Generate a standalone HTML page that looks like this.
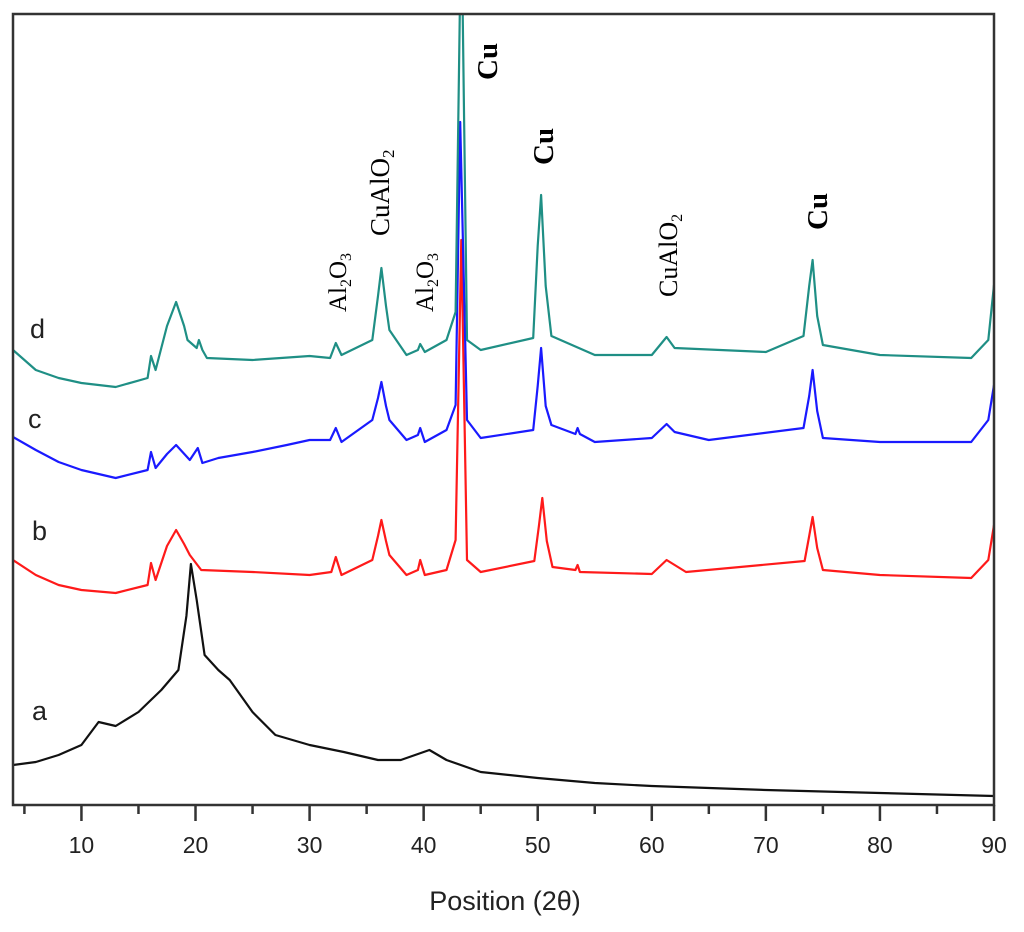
<!DOCTYPE html>
<html><head><meta charset="utf-8"><style>
html,body{margin:0;padding:0;background:#fff;}
svg{display:block;}
</style></head><body>
<svg id="chart" width="1024" height="932" xmlns="http://www.w3.org/2000/svg">
<g id="series"></g>
<rect x="13" y="14" width="981" height="791" fill="none" stroke="#333" stroke-width="2.5"/>
<g id="ticks"></g>
<text x="505" y="910" text-anchor="middle" font-family="Liberation Sans, sans-serif" font-size="27" fill="#222">Position (2θ)</text>
<g font-family="Liberation Sans, sans-serif" font-size="27" fill="#222">
<text x="30" y="338">d</text>
<text x="28" y="428">c</text>
<text x="32" y="540">b</text>
<text x="32" y="720">a</text>
</g>
<g font-family="Liberation Serif, serif" font-size="25" fill="#000">
<text transform="translate(346,312) rotate(-90)">Al<tspan font-size="16" dy="5">2</tspan><tspan dy="-5">O</tspan><tspan font-size="16" dy="5">3</tspan></text>
<text font-size="27" transform="translate(389,236) rotate(-90)">CuAlO<tspan font-size="17" dy="5">2</tspan></text>
<text transform="translate(433,312) rotate(-90)">Al<tspan font-size="16" dy="5">2</tspan><tspan dy="-5">O</tspan><tspan font-size="16" dy="5">3</tspan></text>
<text font-weight="bold" font-size="29" transform="translate(497,80) rotate(-90)">Cu</text>
<text font-weight="bold" font-size="29" transform="translate(553,165) rotate(-90)">Cu</text>
<text font-size="26" transform="translate(677,297) rotate(-90)">CuAlO<tspan font-size="16" dy="5">2</tspan></text>
<text font-weight="bold" font-size="29" transform="translate(827,230) rotate(-90)">Cu</text>
</g>
</svg>
<script>
// x: 2-theta, y: intensity (arbitrary, offset-stacked units)
const xTickValues = [10,20,30,40,50,60,70,80,90];
const xTickLabels = ["10","20","30","40","50","60","70","80","90"];
const minorTicks = [5,15,25,35,45,55,65,75,85];

const aX = [4,6,8,10,11.5,13,15,17,18.5,19.2,19.6,20.1,20.8,22,23,25,27,30,33,36,38,40.5,42,45,50,55,60,70,80,90];
const aY = [41,44,51,61,84,80,94,116,136,190,242,206,151,136,126,94,71,61,54,46,46,56,46,34,28,23,20,16,13,10];

const bX = [4,6,8,10,13,15.8,16.1,16.5,17.5,18.3,19.0,19.5,20.5,25,30,31.9,32.3,32.8,35.5,36.0,36.3,36.7,37,38.5,39.5,39.7,40.1,42,42.8,43.3,43.8,45,49.7,50.1,50.4,50.8,51.3,53.3,53.5,53.7,60,61.3,63,73.4,73.8,74.1,74.5,75,80,88,89.5,90];
const bY = [246,231,221,216,213,221,243,226,260,276,262,251,236,234,231,234,249,231,246,270,286,265,251,231,236,246,231,236,266,566,246,234,245,280,308,265,239,236,241,234,232,246,234,245,270,289,258,236,231,228,246,281];

const cX = [4,6,8,10,13,15.8,16.1,16.5,17.5,18.3,19.5,20.2,20.6,22,25,28,30,31.8,32.3,32.8,35.5,36.0,36.3,36.7,37,38.5,39.5,39.7,40.1,42,42.8,43.2,43.8,45,49.6,50.0,50.3,50.7,51.2,53.3,53.5,53.7,55,60,61.3,62,65,73.3,73.8,74.1,74.5,75,80,88,89.5,90];
const cY = [369,356,344,336,328,336,354,338,352,361,346,358,343,348,354,361,366,366,378,364,386,408,424,400,386,366,371,378,364,376,401,684,386,368,376,420,458,400,381,372,378,372,364,368,382,374,366,378,410,436,395,368,364,364,386,421];

const dX = [4,6,8,10,13,15.8,16.1,16.5,17.5,18.3,19.0,19.3,20.1,20.3,20.6,21,25,30,31.8,32.3,32.8,35.5,36.0,36.3,36.7,37,38.5,39.5,39.7,40.1,42,42.8,43.3,43.8,45,49.6,50.0,50.3,50.7,51.2,55,60,61.3,62,70,73.3,73.8,74.1,74.5,75,80,88,89.5,90];
const dY = [456,436,428,423,419,428,450,436,480,504,480,466,458,466,456,448,446,450,448,463,451,466,510,538,500,476,451,456,462,454,466,494,900,466,456,468,560,611,520,470,451,451,469,458,454,470,520,546,490,461,451,448,466,521];

const X0=4, X1=90, PX0=13, PX1=994;
function xs(v){ return PX0 + (v-X0)*(PX1-PX0)/(X1-X0); }
function ys(v){ return 806 - v; }

const NS="http://www.w3.org/2000/svg";
const sg=document.getElementById('series');
const clip=document.createElementNS(NS,'clipPath');
clip.setAttribute('id','pc');
const cr=document.createElementNS(NS,'rect');
cr.setAttribute('x',13);cr.setAttribute('y',14);cr.setAttribute('width',981);cr.setAttribute('height',791);
clip.appendChild(cr);
document.getElementById('chart').appendChild(clip);
sg.setAttribute('clip-path','url(#pc)');

function drawSeries(X,Y,color,name){
  let d='';
  for(let i=0;i<X.length;i++){ d+=(i?'L':'M')+xs(X[i]).toFixed(1)+','+ys(Y[i]).toFixed(1); }
  const p=document.createElementNS(NS,'path');
  p.setAttribute('d',d);
  p.setAttribute('fill','none');
  p.setAttribute('stroke',color);
  p.setAttribute('stroke-width','2.2');
  p.setAttribute('stroke-linejoin','round');
  
  
  sg.appendChild(p);
}
drawSeries(aX,aY,'#111','series-a');
drawSeries(bX,bY,'#ff1a1a','series-b');
drawSeries(cX,cY,'#1a1aff','series-c');
drawSeries(dX,dY,'#1f8f85','series-d');

const tg=document.getElementById('ticks');
xTickValues.forEach((v,i)=>{
  const l=document.createElementNS(NS,'line');
  l.setAttribute('x1',xs(v));l.setAttribute('x2',xs(v));
  l.setAttribute('y1',805);l.setAttribute('y2',821);
  l.setAttribute('stroke','#333');l.setAttribute('stroke-width','2.5');
  
  
  tg.appendChild(l);
  const t=document.createElementNS(NS,'text');
  t.setAttribute('x',xs(v));t.setAttribute('y',853);
  t.setAttribute('text-anchor','middle');
  t.setAttribute('font-family','Liberation Sans, sans-serif');
  t.setAttribute('font-size','23');t.setAttribute('fill','#222');
  t.textContent=xTickLabels[i];
  
  
  tg.appendChild(t);
});
minorTicks.forEach(v=>{
  const l=document.createElementNS(NS,'line');
  l.setAttribute('x1',xs(v));l.setAttribute('x2',xs(v));
  l.setAttribute('y1',805);l.setAttribute('y2',814);
  l.setAttribute('stroke','#333');l.setAttribute('stroke-width','2.5');
  
  
  tg.appendChild(l);
});
</script>
</body></html>
